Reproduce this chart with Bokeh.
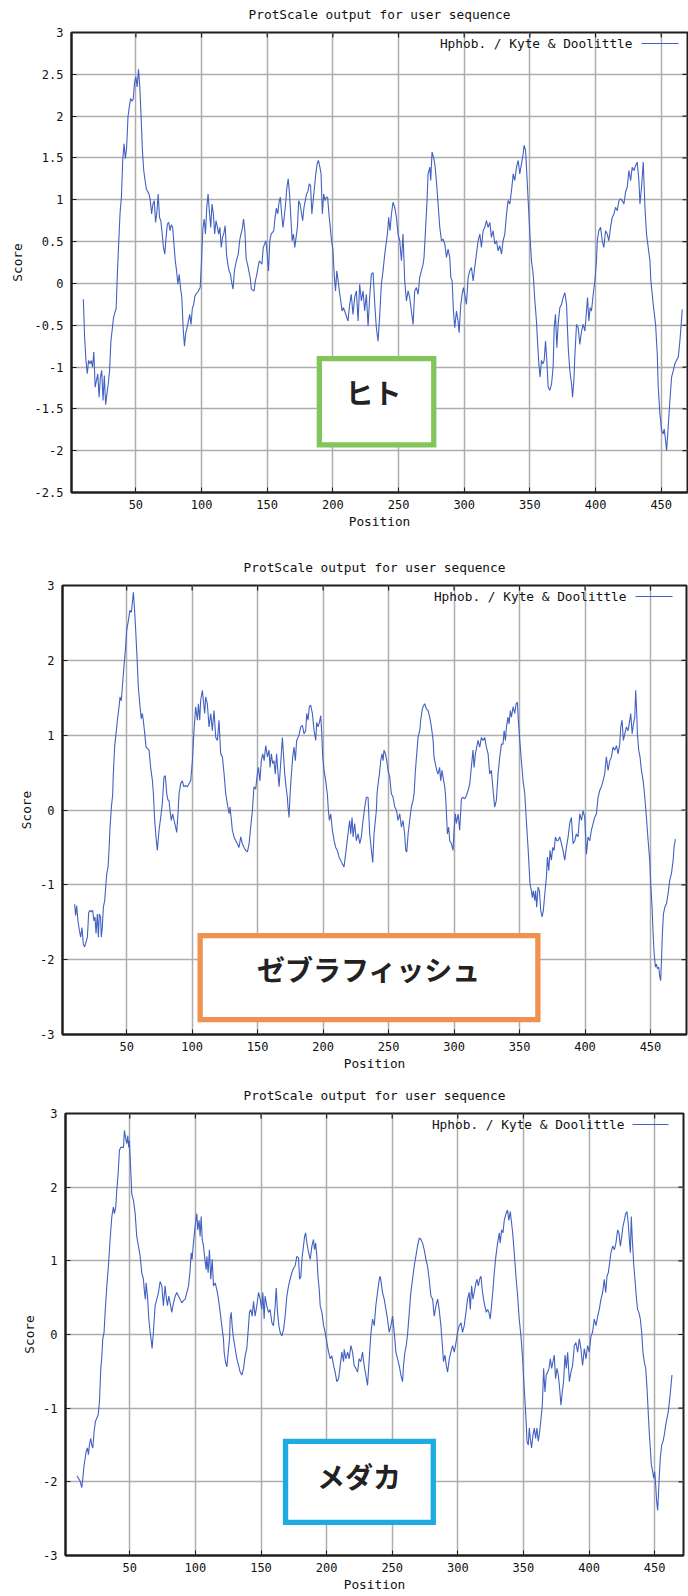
from bokeh.plotting import figure
from bokeh.models import Range1d, FixedTicker, Label, BoxAnnotation, LinearAxis
from bokeh.embed import file_html
from bokeh.resources import INLINE

# ---------------- texts ----------------
TITLE = "ProtScale output for user sequence"
LEGEND = "Hphob. / Kyte & Doolittle"
X_LABEL = "Position"
Y_LABEL = "Score"
SPECIES = ["ヒト", "ゼブラフィッシュ", "メダカ"]

X_TICKS = [50, 100, 150, 200, 250, 300, 350, 400, 450]
X_TICK_LABELS = ["50", "100", "150", "200", "250", "300", "350", "400", "450"]
Y1_TICKS = [-2.5, -2, -1.5, -1, -0.5, 0, 0.5, 1, 1.5, 2, 2.5, 3]
Y1_TICK_LABELS = ["-2.5", "-2", "-1.5", "-1", "-0.5", "0", "0.5", "1", "1.5", "2", "2.5", "3"]
Y23_TICKS = [-3, -2, -1, 0, 1, 2, 3]
Y23_TICK_LABELS = ["-3", "-2", "-1", "0", "1", "2", "3"]

# ---------------- data: human (ヒト) ----------------
human_pos = [10, 11, 12, 13, 14, 15, 16, 17, 18, 19, 20, 21, 22, 23, 24, 25, 26, 27, 28, 29,
             30, 31, 32, 33, 34, 35, 36, 37, 38, 39, 40, 41, 42, 43, 44, 45, 46, 47, 48, 49,
             50, 51, 52, 53, 54, 55, 56, 57, 58, 59, 60, 61, 62, 63, 64, 65, 66, 67, 68, 69,
             70, 71, 72, 73, 74, 75, 76, 77, 78, 79, 80, 81, 82, 83, 84, 85, 86, 87, 88, 89,
             90, 91, 92, 93, 94, 95, 96, 97, 98, 99, 100, 101, 102, 103, 104, 105, 106, 107, 108, 109,
             110, 111, 112, 113, 114, 115, 116, 117, 118, 119, 120, 121, 122, 123, 124, 125, 126, 127, 128, 129,
             130, 131, 132, 133, 134, 135, 136, 137, 138, 139, 140, 141, 142, 143, 144, 145, 146, 147, 148, 149,
             150, 151, 152, 153, 154, 155, 156, 157, 158, 159, 160, 161, 162, 163, 164, 165, 166, 167, 168, 169,
             170, 171, 172, 173, 174, 175, 176, 177, 178, 179, 180, 181, 182, 183, 184, 185, 186, 187, 188, 189,
             190, 191, 192, 193, 194, 195, 196, 197, 198, 199, 200, 201, 202, 203, 204, 205, 206, 207, 208,
             209.0, 211.5, 212.8, 214.0, 215.3, 216.6, 217.9, 219.2, 220.4, 221.7, 223.0, 224.2, 225.5, 226.8,
             228.0, 229.3, 230.6, 231.9, 233.1, 234.4, 235.7, 236.9, 238.2, 239.5, 241.5, 242.5, 243.5, 244.6,
             245.8, 247.1, 248.4, 249.6, 250.9, 252.2, 253.4, 254.7, 256.0, 257.3, 258.5, 259.8, 261.1, 262.3,
             263.6, 264.9, 266.1, 267.4, 268.7, 269.4, 270.5, 271.7, 272.5, 273.8, 274.5, 275.5, 276.6, 277.6,
             278.8, 280.1, 281.4, 282.7, 283.9, 285.2, 286.5, 287.7, 289.0, 289.8, 290.8, 291.8, 292.8, 294.1,
             295.3, 296.1, 297.4, 298.4, 299.4, 300.4, 301.7, 303.0, 304.2, 305.5, 306.8, 308.0, 309.3, 310.6,
             311.9, 313.1, 314.4, 315.7, 316.9, 318.2, 319.5, 320.7, 322.0, 323.3, 324.6, 325.8, 327.1, 328.4,
             329.6, 330.9, 332.2, 333.4, 334.7, 336.0, 337.3, 338.5, 339.8, 341.1, 342.3, 343.6, 344.9, 345.6,
             346.7, 347.4, 348.7, 350.0, 351.2, 352.5, 353.8, 355.0, 355.8, 356.8, 357.8, 358.8, 359.9, 360.9,
             361.9, 362.9, 363.9, 365.2, 366.5, 367.7, 368.5, 369.5, 370.5, 371.5, 372.8, 374.1, 375.3, 376.6,
             377.9, 379.2, 380.4, 381.7, 382.5, 383.5, 384.2, 385.5, 386.8, 388.0, 389.3, 390.6, 391.9, 393.1,
             393.9, 394.9, 395.9, 396.9, 398.2, 399.5, 400.7, 401.3, 402.5, 403.8, 405.1, 406.3, 407.6, 408.9,
             410.1, 411.4, 412.7, 414.0, 415.2, 416.5, 417.8, 419.0, 420.3, 421.6, 422.8, 424.1, 425.4, 426.7,
             427.9, 429.2, 430.5, 431.7, 433.0, 433.8, 435.0, 436.3, 437.6, 438.8, 440.1, 441.4, 442.1, 443.9,
             445.7, 447.0, 447.7, 449.0, 450.3, 451.5, 452.3, 453.3, 454.1, 455.3, 456.6, 457.9, 459.2, 460.4,
             461.7, 463.0, 464.2, 465.0, 466.0]
human_score = [-0.19, -0.65, -0.92, -1.08, -0.92, -0.96, -0.92, -1.00, -0.82, -1.24, -1.16, -1.08, -1.36, -1.12, -1.04, -1.40, -1.10, -1.45, -1.32, -1.20,
               -1.04, -0.69, -0.55, -0.41, -0.35, -0.30, 0.15, 0.50, 0.85, 1.03, 1.47, 1.67, 1.49, 1.63, 1.99, 2.11, 2.21, 2.18, 2.20, 2.40,
               2.47, 2.35, 2.56, 2.35, 1.99, 1.59, 1.35, 1.23, 1.13, 1.10, 1.07, 0.99, 0.83, 0.95, 0.99, 0.73, 0.85, 1.07, 0.79, 0.75,
               0.60, 0.43, 0.35, 0.55, 0.71, 0.73, 0.63, 0.70, 0.67, 0.47, 0.27, 0.15, -0.01, 0.11, -0.05, -0.17, -0.53, -0.75, -0.59, -0.53,
               -0.45, -0.37, -0.49, -0.30, -0.25, -0.15, -0.12, -0.11, -0.08, -0.05, 0.27, 0.65, 0.77, 0.59, 0.91, 1.07, 0.85, 0.67, 0.95, 0.83,
               0.59, 0.75, 0.68, 0.59, 0.67, 0.43, 0.55, 0.60, 0.69, 0.35, 0.23, 0.15, 0.11, 0.01, -0.07, 0.15, 0.23, 0.30, 0.35, 0.51,
               0.59, 0.65, 0.77, 0.63, 0.29, 0.23, 0.15, 0.07, -0.07, -0.08, -0.09, 0.03, 0.10, 0.19, 0.27, 0.25, 0.23, 0.43, 0.47, 0.51,
               0.35, 0.15, 0.51, 0.59, 0.61, 0.63, 0.79, 0.90, 0.83, 0.97, 1.03, 0.83, 0.67, 0.80, 0.95, 1.15, 1.25, 1.07, 0.79, 0.51,
               0.59, 0.43, 0.55, 0.67, 0.99, 0.95, 0.85, 0.75, 0.91, 0.99, 1.07, 1.10, 1.19, 1.17, 0.83, 0.99, 1.15, 1.31, 1.43, 1.47,
               1.40, 1.31, 0.83, 1.07, 0.99, 1.03, 1.03, 0.83, 0.67, 0.51, 0.41, 0.11, -0.09, 0.15, 0.03, -0.10, -0.21, -0.33, -0.29,
               -0.33, -0.45, -0.25, -0.13, -0.37, -0.17, -0.09, -0.45, -0.01, -0.21, -0.09, -0.33, -0.13, -0.51,
               -0.17, 0.11, 0.13, -0.25, -0.53, -0.69, -0.37, -0.01, 0.15, 0.35, 0.59, 0.79, 0.63, 0.83,
               0.97, 0.91, 0.79, 0.59, 0.51, 0.27, 0.59, 0.03, -0.21, -0.09, -0.17, -0.33, -0.49, -0.09,
               -0.05, -0.13, 0.07, 0.15, 0.23, 0.31, 0.63, 0.99, 1.31, 1.39, 1.23, 1.57, 1.51, 1.43,
               1.23, 0.95, 0.67, 0.51, 0.53, 0.47, 0.31, 0.41, 0.31, 0.07, 0.03, -0.33, -0.53, -0.33,
               -0.45, -0.59, -0.25, -0.13, -0.05, -0.13, -0.25, 0.07, 0.15, 0.19, 0.03, 0.19, 0.35, 0.51,
               0.59, 0.43, 0.63, 0.67, 0.75, 0.67, 0.73, 0.55, 0.63, 0.47, 0.51, 0.39, 0.45, 0.35,
               0.51, 0.59, 0.83, 0.99, 0.95, 1.11, 1.31, 1.23, 1.39, 1.47, 1.31, 1.43, 1.55, 1.65,
               1.59, 1.39, 0.99, 0.59, 0.27, 0.11, -0.21, -0.45, -0.69, -0.96, -1.12, -0.92, -0.96, -0.92,
               -0.69, -0.92, -1.24, -1.28, -1.20, -1.00, -0.53, -0.37, -0.77, -0.49, -0.29, -0.25, -0.17, -0.11,
               -0.25, -0.77, -1.04, -1.20, -1.36, -1.16, -0.88, -0.49, -0.53, -0.73, -0.57, -0.49, -0.57, -0.33,
               -0.17, -0.45, -0.29, -0.33, -0.13, 0.03, 0.27, 0.51, 0.63, 0.67, 0.51, 0.43, 0.63, 0.59,
               0.51, 0.67, 0.79, 0.83, 0.91, 0.87, 0.99, 1.01, 0.99, 0.95, 1.09, 1.15, 1.35, 1.23,
               1.39, 1.35, 1.41, 1.45, 1.23, 0.95, 1.15, 1.45, 0.91, 0.59, 0.43, 0.27, 0.03, -0.25,
               -0.49, -0.85, -1.24, -1.56, -1.76, -1.80, -1.74, -1.88, -2.00, -1.72, -1.40, -1.12, -1.04, -0.96,
               -0.92, -0.88, -0.69, -0.53, -0.31]

# ---------------- data: zebrafish (ゼブラフィッシュ) ----------------
zebrafish_pos = [10.3, 11.0, 11.8, 12.8, 13.9, 14.9, 15.9, 16.9, 17.9, 18.9, 20.0, 21.0, 22.0, 23.0, 24.0, 25.0, 25.8, 26.6, 27.6, 28.4,
                 29.1, 30.1, 30.6, 31.4, 32.2, 33.2, 34.0, 34.8, 35.8, 36.5, 37.3, 38.4, 39.3, 39.8, 40.8, 41.9, 42.9, 44.2, 44.9, 45.9,
                 46.7, 47.9, 49.2, 50.0, 51.3, 52.5, 53.6, 54.3, 55.1, 55.9, 56.9, 57.9, 58.9, 60.2, 61.2, 61.9, 62.7, 63.8, 64.8, 65.8,
                 67.1, 68.3, 69.6, 70.4, 71.4, 72.4, 73.4, 74.7, 76.0, 77.2, 78.5, 79.5, 80.6, 81.6, 82.3, 83.1, 84.1, 85.1, 86.2, 87.4,
                 88.2, 89.2, 90.0, 91.2, 92.5, 93.7, 95.0, 96.3, 97.6, 98.9, 100.2, 101.4, 102.7, 104.0, 104.8, 105.8, 106.5, 107.8, 108.6, 109.6,
                 110.3, 111.6, 112.9, 114.2, 115.4, 116.7, 118.0, 119.3, 120.5, 121.8, 123.1, 124.4, 125.6, 126.9, 128.2, 128.9, 130.0, 130.7, 132.0, 133.3,
                 134.5, 135.8, 137.1, 138.3, 139.6, 140.9, 142.2, 143.5, 144.7, 146.0, 147.2, 148.5, 149.8, 150.6, 151.8, 152.8, 153.9, 155.0, 156.2, 157.5,
                 158.7, 159.5, 160.5, 161.5, 162.5, 163.5, 164.5, 165.6, 166.4, 167.6, 168.9, 169.7, 170.7, 171.7, 172.7, 173.2, 174.0, 174.8, 175.8, 176.8,
                 177.8, 178.8, 179.8, 180.9, 181.9, 182.9, 184.2, 185.4, 186.7, 187.5, 188.5, 189.5, 190.5, 191.8, 193.1, 194.4, 195.1, 196.1, 197.2, 198.2,
                 199.0, 199.7, 200.7, 202.0, 203.3, 204.0, 204.8, 205.8, 207.1, 208.4, 209.6, 210.9, 212.2, 213.4, 214.7, 216.0, 217.8, 219.0, 220.3, 221.1,
                 222.1, 222.9, 224.1, 225.4, 226.7, 228.0, 229.2, 230.5, 231.8, 233.0, 234.3, 235.6, 236.9, 237.9, 238.9, 239.9, 240.7, 241.2, 242.0, 243.0,
                 244.0, 245.0, 245.8, 246.5, 247.6, 248.6, 249.6, 250.9, 252.1, 253.4, 254.7, 256.0, 257.2, 258.5, 259.8, 261.0, 262.3, 263.1, 263.9, 264.9,
                 266.1, 267.4, 268.7, 269.5, 270.5, 271.5, 272.5, 273.8, 274.5, 275.6, 276.3, 277.6, 278.9, 280.1, 281.4, 282.7, 284.0, 284.7, 285.7, 286.8,
                 287.8, 289.0, 289.8, 290.8, 291.6, 292.9, 293.6, 294.1, 294.9, 295.9, 296.7, 298.0, 299.2, 300.0, 301.0, 301.8, 303.1, 304.3, 305.6, 306.9,
                 308.1, 309.4, 310.7, 312.0, 312.7, 313.7, 314.5, 315.3, 316.3, 317.3, 318.3, 319.6, 320.9, 322.1, 323.4, 324.7, 326.0, 327.2, 328.5, 329.8,
                 331.0, 332.3, 333.6, 334.9, 336.2, 337.4, 338.2, 339.2, 340.0, 341.2, 342.0, 343.0, 343.8, 345.1, 346.3, 347.4, 348.4, 349.1, 350.2, 351.4,
                 352.7, 354.0, 355.2, 356.5, 357.3, 358.0, 359.1, 359.8, 360.6, 361.6, 362.3, 363.1, 364.2, 365.2, 366.2, 367.2, 368.2, 369.3, 370.5, 371.3,
                 372.3, 373.3, 374.3, 375.4, 376.4, 377.4, 378.4, 379.4, 380.7, 382.0, 383.2, 384.5, 385.8, 387.1, 388.3, 389.6, 390.9, 392.2, 393.4, 394.7,
                 396.0, 397.3, 398.5, 399.8, 401.1, 402.3, 403.6, 404.9, 406.2, 407.4, 408.7, 410.0, 411.2, 412.5, 413.8, 415.0, 416.3, 417.6, 418.9, 420.2,
                 421.4, 422.7, 424.0, 425.3, 426.5, 427.3, 428.3, 429.3, 430.4, 431.6, 432.9, 434.2, 434.9, 436.0, 437.0, 438.0, 438.7, 439.5, 440.0, 441.0,
                 442.0, 443.1, 444.4, 445.6, 446.9, 448.2, 449.4, 450.2, 451.2, 452.0, 452.8, 453.8, 454.5, 455.3, 456.3, 457.1, 457.8, 458.4, 459.1, 459.9,
                 460.9, 462.2, 463.4, 464.7, 466.0, 467.3, 468.0, 469.0]
zebrafish_score = [-1.26, -1.41, -1.28, -1.48, -1.61, -1.70, -1.57, -1.79, -1.83, -1.77, -1.70, -1.37, -1.34, -1.36, -1.34, -1.48, -1.43, -1.65, -1.39, -1.70,
                   -1.39, -1.43, -1.70, -1.57, -1.30, -1.21, -1.03, -0.85, -0.76, -0.54, -0.23, 0.05, 0.20, 0.48, 0.84, 1.02, 1.20, 1.38, 1.51, 1.46,
                   1.64, 1.91, 2.18, 2.40, 2.53, 2.67, 2.64, 2.76, 2.91, 2.71, 2.40, 2.04, 1.64, 1.38, 1.22, 1.29, 1.20, 1.02, 0.84, 0.82,
                   0.80, 0.57, 0.40, 0.22, -0.14, -0.36, -0.54, -0.27, -0.10, 0.08, 0.44, 0.46, 0.22, 0.13, 0.13, -0.01, -0.14, -0.05, -0.14, -0.23,
                   -0.30, -0.05, 0.22, 0.35, 0.39, 0.31, 0.33, 0.31, 0.35, 0.39, 0.66, 1.06, 1.38, 1.20, 1.42, 1.20, 1.46, 1.60, 1.46, 1.29,
                   1.51, 1.42, 1.11, 1.29, 1.06, 1.33, 0.97, 0.93, 1.20, 0.75, 0.71, 0.48, 0.22, 0.08, -0.05, 0.04, -0.14, -0.27, -0.36, -0.41,
                   -0.45, -0.50, -0.36, -0.45, -0.50, -0.54, -0.56, -0.45, -0.23, -0.01, 0.31, 0.28, 0.48, 0.57, 0.39, 0.66, 0.75, 0.66, 0.86, 0.71,
                   0.80, 0.57, 0.75, 0.62, 0.66, 0.48, 0.75, 0.48, 0.31, 0.62, 0.97, 0.75, 0.48, 0.31, 0.17, 0.04, -0.10, 0.22, 0.48, 0.71,
                   0.84, 0.66, 0.93, 0.97, 1.02, 1.11, 1.13, 1.02, 1.06, 1.29, 1.20, 1.38, 1.40, 1.29, 1.06, 0.93, 1.17, 1.11, 1.17, 1.26,
                   1.02, 0.71, 0.53, 0.39, 0.20, 0.00, -0.14, -0.05, -0.27, -0.41, -0.50, -0.54, -0.63, -0.67, -0.72, -0.76, -0.50, -0.32, -0.14, -0.32,
                   -0.10, -0.36, -0.18, -0.41, -0.32, -0.45, -0.36, -0.14, 0.04, 0.17, 0.17, -0.32, -0.54, -0.70, -0.32, -0.14, 0.00, 0.22, 0.35, 0.48,
                   0.66, 0.75, 0.66, 0.80, 0.75, 0.66, 0.53, 0.44, 0.22, 0.17, 0.04, 0.00, -0.14, -0.05, -0.23, -0.14, -0.32, -0.54, -0.56, -0.32,
                   -0.14, 0.04, 0.13, 0.22, 0.53, 0.75, 0.97, 1.06, 1.20, 1.33, 1.38, 1.42, 1.35, 1.33, 1.24, 1.11, 0.93, 0.71, 0.62, 0.53,
                   0.48, 0.57, 0.39, 0.53, 0.44, 0.31, 0.17, -0.01, -0.32, -0.23, -0.41, -0.45, -0.54, -0.27, -0.05, -0.18, -0.05, -0.27, 0.15, 0.17,
                   0.15, 0.19, 0.26, 0.35, 0.48, 0.66, 0.80, 0.57, 0.75, 0.84, 0.93, 0.84, 0.97, 0.93, 0.97, 0.84, 0.75, 0.48, 0.53, 0.26,
                   0.04, 0.13, 0.48, 0.71, 0.88, 0.88, 1.06, 0.93, 1.11, 1.24, 1.15, 1.33, 1.24, 1.38, 1.29, 1.42, 1.44, 1.20, 0.93, 0.66,
                   0.39, 0.22, -0.14, -0.50, -0.76, -0.99, -1.08, -1.17, -1.08, -1.21, -1.08, -1.30, -1.03, -1.08, -1.34, -1.43, -1.34, -1.12, -0.90, -0.63,
                   -0.81, -0.54, -0.67, -0.50, -0.54, -0.36, -0.41, -0.41, -0.36, -0.45, -0.54, -0.67, -0.50, -0.36, -0.18, -0.10, -0.45, -0.41, -0.32, -0.36,
                   -0.05, -0.14, -0.01, -0.10, -0.59, -0.36, -0.41, -0.27, -0.18, -0.10, -0.05, 0.17, 0.26, 0.31, 0.39, 0.48, 0.71, 0.53, 0.66, 0.71,
                   0.84, 0.80, 0.86, 0.75, 0.88, 1.11, 1.20, 0.93, 1.02, 1.11, 1.06, 1.20, 1.29, 1.02, 1.15, 1.24, 1.60, 1.29, 1.02, 0.80,
                   0.71, 0.53, 0.39, 0.18, -0.10, -0.41, -0.67, -0.99, -1.30, -1.65, -1.92, -2.10, -2.06, -2.12, -2.10, -2.23, -2.28, -2.01, -1.65, -1.39,
                   -1.30, -1.25, -1.12, -0.94, -0.85, -0.67, -0.50, -0.39]

# ---------------- data: medaka (メダカ) ----------------
medaka_pos = [9.6, 10.9, 12.1, 13.4, 14.2, 15.2, 16.0, 16.7, 17.7, 18.5, 19.2, 20.2, 21.0, 21.8, 22.8, 23.8, 24.8, 25.9, 26.9, 27.9,
              28.6, 29.4, 30.4, 31.2, 32.5, 33.7, 35.0, 36.3, 37.5, 38.3, 39.3, 40.1, 41.1, 42.1, 43.1, 44.2, 45.2, 45.9, 46.7, 47.7,
              48.5, 49.2, 49.7, 50.5, 51.5, 52.8, 54.1, 55.3, 56.6, 57.9, 59.1, 60.4, 61.2, 61.9, 62.4, 63.5, 64.5, 65.5, 66.2, 67.0,
              68.0, 69.3, 70.6, 71.9, 73.1, 74.4, 75.6, 76.9, 77.7, 78.7, 79.7, 80.7, 82.0, 83.3, 84.6, 85.8, 87.1, 88.3, 89.6, 90.9,
              92.2, 93.5, 94.8, 96.0, 96.8, 97.5, 98.5, 99.8, 101.1, 101.8, 102.8, 103.6, 104.4, 105.2, 106.2, 107.2, 108.2, 108.7, 109.7, 110.7,
              111.7, 112.8, 113.8, 115.1, 116.3, 117.6, 118.9, 120.1, 121.4, 121.9, 122.9, 124.0, 125.0, 126.0, 126.5, 127.3, 128.0, 128.8, 130.3, 131.6,
              132.9, 134.1, 135.4, 136.7, 138.0, 139.2, 140.5, 141.2, 142.2, 143.3, 144.3, 145.5, 146.8, 148.1, 149.4, 150.6, 151.4, 152.4, 153.1, 154.4,
              155.7, 156.9, 158.3, 159.5, 160.8, 161.6, 162.6, 163.6, 164.6, 165.9, 167.2, 168.4, 169.7, 171.0, 172.2, 173.5, 174.8, 176.0, 177.3, 178.6,
              179.4, 180.4, 181.4, 182.4, 183.2, 184.0, 185.0, 186.3, 187.5, 188.8, 190.0, 190.8, 191.6, 192.6, 193.4, 194.4, 195.1, 196.4, 197.7, 198.9,
              200.2, 201.5, 202.8, 204.0, 205.3, 206.5, 207.8, 209.1, 210.4, 211.6, 212.9, 213.4, 214.7, 216.0, 217.2, 218.5, 219.8, 221.0, 222.3, 223.6,
              224.8, 226.1, 227.4, 228.6, 229.9, 231.2, 232.5, 233.7, 235.0, 236.3, 237.5, 238.8, 240.1, 240.9, 241.9, 242.6, 243.9, 245.2, 246.4, 247.7,
              249.0, 250.3, 251.0, 252.0, 252.8, 254.1, 255.3, 256.6, 257.9, 258.6, 259.7, 260.7, 261.7, 263.0, 264.2, 265.5, 266.8, 268.0, 269.3, 270.6,
              271.9, 273.1, 274.4, 275.7, 276.9, 278.2, 279.5, 280.8, 282.0, 283.3, 284.6, 285.8, 287.1, 288.4, 289.1, 290.2, 291.2, 292.2, 293.5, 294.7,
              296.0, 297.3, 298.6, 299.8, 301.1, 302.4, 303.6, 304.9, 306.2, 307.4, 308.7, 309.5, 310.5, 311.5, 312.5, 313.8, 314.6, 315.6, 316.6, 317.6,
              318.6, 319.6, 320.6, 321.7, 322.7, 323.7, 324.7, 325.7, 326.8, 327.8, 329.0, 330.3, 331.6, 332.3, 333.4, 334.4, 335.4, 336.7, 337.9, 338.9,
              340.0, 341.0, 341.8, 343.0, 344.3, 345.6, 346.8, 348.1, 349.4, 350.6, 351.4, 352.2, 352.7, 353.7, 354.5, 355.2, 356.2, 357.3, 358.3, 359.3,
              360.3, 361.3, 362.4, 363.4, 364.4, 365.4, 366.4, 367.4, 368.5, 369.5, 370.5, 371.5, 372.5, 373.5, 374.5, 375.6, 376.6, 377.6, 378.6, 379.6,
              380.6, 381.7, 382.7, 383.7, 385.0, 386.2, 387.5, 388.8, 390.0, 391.3, 392.6, 393.8, 395.1, 396.4, 397.7, 398.9, 400.2, 401.5, 402.7, 404.0,
              405.3, 406.6, 407.8, 409.1, 410.4, 411.6, 412.7, 413.7, 414.7, 415.7, 416.7, 418.0, 419.3, 420.5, 421.8, 422.8, 423.9, 424.9, 425.9, 426.9,
              427.9, 428.9, 429.9, 430.7, 431.5, 432.2, 433.0, 434.0, 435.0, 436.0, 437.0, 438.0, 439.1, 440.1, 441.1, 442.1, 443.2, 444.2, 445.2, 446.0,
              446.7, 447.5, 448.5, 449.3, 450.0, 450.8, 451.5, 452.3, 452.8, 453.6, 454.3, 455.4, 456.4, 457.4, 458.4, 459.4, 460.4, 461.5, 462.5, 463.2]
medaka_score = [-1.92, -1.95, -1.99, -2.08, -1.95, -1.77, -1.68, -1.59, -1.54, -1.63, -1.50, -1.41, -1.50, -1.54, -1.32, -1.18, -1.14, -1.09, -0.91, -0.46,
                -0.33, -0.06, 0.03, 0.30, 0.66, 0.93, 1.29, 1.60, 1.73, 1.64, 1.73, 1.96, 2.18, 2.50, 2.54, 2.54, 2.54, 2.77, 2.68, 2.59,
                2.70, 2.54, 2.63, 2.32, 1.91, 1.82, 1.64, 1.33, 1.20, 1.06, 0.84, 0.75, 0.57, 0.48, 0.70, 0.52, 0.21, 0.03, -0.06, -0.19,
                0.03, 0.39, 0.48, 0.57, 0.72, 0.66, 0.39, 0.66, 0.52, 0.39, 0.52, 0.43, 0.30, 0.43, 0.52, 0.57, 0.52, 0.48, 0.43, 0.46,
                0.48, 0.57, 0.66, 0.88, 1.11, 1.02, 1.24, 1.47, 1.64, 1.42, 1.55, 1.33, 1.60, 1.29, 1.20, 1.02, 0.88, 1.06, 0.84, 1.15,
                0.75, 1.02, 0.66, 0.70, 0.61, 0.48, 0.30, 0.12, -0.06, -0.24, -0.37, -0.44, -0.24, -0.06, 0.21, 0.30, 0.12, -0.02, -0.19, -0.33,
                -0.42, -0.51, -0.55, -0.46, -0.28, -0.19, 0.12, 0.30, 0.34, 0.25, 0.45, 0.25, 0.39, 0.57, 0.48, 0.34, 0.57, 0.21, 0.52, 0.39,
                0.30, 0.34, 0.16, 0.12, 0.39, 0.63, 0.30, 0.12, 0.03, -0.02, 0.07, 0.25, 0.52, 0.66, 0.75, 0.84, 0.90, 0.93, 1.06, 1.04,
                0.75, 0.79, 1.06, 1.20, 1.33, 1.38, 1.24, 1.11, 1.02, 1.20, 1.29, 1.15, 1.24, 1.06, 0.79, 0.61, 0.39, 0.30, 0.12, 0.03,
                -0.11, -0.24, -0.33, -0.29, -0.42, -0.51, -0.64, -0.60, -0.42, -0.24, -0.37, -0.20, -0.33, -0.24, -0.33, -0.15, -0.24, -0.42, -0.46, -0.51,
                -0.33, -0.37, -0.24, -0.42, -0.55, -0.69, -0.33, 0.00, 0.21, 0.12, 0.39, 0.57, 0.75, 0.79, 0.66, 0.57, 0.48, 0.34, 0.21, 0.03,
                0.12, 0.25, 0.12, -0.06, -0.24, -0.33, -0.42, -0.55, -0.64, -0.42, -0.24, -0.15, 0.00, 0.30, 0.57, 0.75, 0.93, 1.06, 1.20, 1.31,
                1.29, 1.24, 1.15, 1.02, 0.93, 0.75, 0.52, 0.48, 0.25, 0.39, 0.48, 0.34, 0.12, -0.19, -0.37, -0.28, -0.42, -0.51, -0.33, -0.24,
                -0.15, -0.24, -0.11, 0.03, 0.12, 0.16, 0.03, 0.12, 0.30, 0.48, 0.57, 0.34, 0.66, 0.48, 0.57, 0.70, 0.75, 0.66, 0.75, 0.79,
                0.61, 0.48, 0.39, 0.30, 0.34, 0.30, 0.21, 0.39, 0.61, 0.84, 1.06, 1.24, 1.38, 1.24, 1.42, 1.38, 1.55, 1.64, 1.69, 1.55,
                1.67, 1.51, 1.38, 1.11, 0.79, 0.52, 0.21, -0.02, -0.33, -0.73, -0.96, -1.23, -1.45, -1.50, -1.27, -1.41, -1.54, -1.36, -1.27, -1.41,
                -1.27, -1.45, -1.32, -1.14, -0.96, -0.46, -0.78, -0.55, -0.51, -0.46, -0.33, -0.46, -0.37, -0.28, -0.60, -0.46, -0.55, -0.73, -0.96, -0.78,
                -0.64, -0.28, -0.46, -0.24, -0.64, -0.51, -0.42, -0.15, -0.11, -0.24, -0.06, -0.19, -0.42, -0.19, -0.33, -0.15, -0.24, -0.02, 0.03, 0.21,
                0.12, 0.25, 0.34, 0.48, 0.57, 0.75, 0.57, 0.79, 0.84, 0.97, 1.11, 1.20, 1.15, 1.24, 1.42, 1.38, 1.20, 1.33, 1.47, 1.55,
                1.64, 1.67, 1.51, 1.29, 1.11, 1.60, 1.29, 0.97, 0.75, 0.52, 0.34, 0.30, 0.21, 0.03, -0.24, -0.37, -0.46, -0.73, -1.09, -1.36,
                -1.54, -1.77, -1.86, -1.95, -1.86, -2.04, -2.26, -2.39, -2.22, -1.90, -1.68, -1.50, -1.45, -1.36, -1.23, -1.14, -1.05, -0.87, -0.69, -0.55]

# ---------------- styling constants ----------------
MONO = "DejaVu Sans Mono"
CJK = "Noto Sans CJK JP"
CURVE_COLOR = "#4261c2"
GRID_COLOR = "#adadad"
FRAME_COLOR = "#1e1e1e"
TEXT_COLOR = "#111111"
TICK_PX = 5

PANELS = [
    dict(pos=human_pos, score=human_score, xr=(1, 470), yr=(-2.5, 3),
         yt=Y1_TICKS, ytl=Y1_TICK_LABELS, fw=616, fh=460,
         bl=71, br=1, bt=32, bb=58, score_standoff=7,
         box=(189.7, 276.8, -0.90, -1.93), box_color="#84c45c",
         lab=(231, -1.30), species=SPECIES[0], leg=(55, 46, 9, 11)),
    dict(pos=zebrafish_pos, score=zebrafish_score, xr=(1, 477.5), yr=(-3, 3),
         yt=Y23_TICKS, ytl=Y23_TICK_LABELS, fw=624, fh=449,
         bl=62, br=2, bt=35, bb=44, score_standoff=3,
         box=(106.1, 364.0, -1.68, -2.80), box_color="#f0914f",
         lab=(235, -2.13), species=SPECIES[1], leg=(60, 51, 14, 11)),
    dict(pos=medaka_pos, score=medaka_score, xr=(1, 472), yr=(-3, 3),
         yt=Y23_TICKS, ytl=Y23_TICK_LABELS, fw=618, fh=442,
         bl=65, br=5, bt=35, bb=39, score_standoff=3,
         box=(168.7, 281.3, -1.45, -2.55), box_color="#1eaae2",
         lab=(224.6, -1.92), species=SPECIES[2], leg=(59, 51, 15, 11)),
]


def make_panel(cfg):
    x0, x1 = cfg["xr"]
    y0, y1 = cfg["yr"]
    fw, fh = cfg["fw"], cfg["fh"]
    upx = (x1 - x0) / fw   # data units per pixel (x)
    upy = (y1 - y0) / fh   # data units per pixel (y)

    p = figure(title=None, frame_width=fw, frame_height=fh,
               x_range=Range1d(x0, x1), y_range=Range1d(y0, y1),
               output_backend="svg", toolbar_location=None,
               min_border_left=cfg["bl"], min_border_right=cfg["br"],
               min_border_top=cfg["bt"], min_border_bottom=cfg["bb"],
               background_fill_color="white", border_fill_color="white")

    p.outline_line_color = FRAME_COLOR
    p.outline_line_width = 2
    p.outline_line_alpha = 1

    xt = FixedTicker(ticks=X_TICKS)
    ytk = FixedTicker(ticks=cfg["yt"])
    p.xaxis.ticker = xt
    p.yaxis.ticker = ytk
    p.xgrid.ticker = xt
    p.ygrid.ticker = ytk
    p.xaxis.major_label_overrides = dict(zip(X_TICKS, X_TICK_LABELS))
    p.yaxis.major_label_overrides = dict(zip(cfg["yt"], cfg["ytl"]))

    for ax in (p.xaxis, p.yaxis):
        ax.major_tick_in = TICK_PX
        ax.major_tick_out = 0
        ax.minor_tick_in = 0
        ax.minor_tick_out = 0
        ax.major_tick_line_color = FRAME_COLOR
        ax.axis_line_color = FRAME_COLOR
        ax.axis_line_width = 2
        ax.major_label_text_font = MONO
        ax.major_label_text_font_size = "12px"
        ax.major_label_text_color = TEXT_COLOR
        ax.axis_label_text_font = MONO
        ax.axis_label_text_font_size = "12.8px"
        ax.axis_label_text_font_style = "normal"
        ax.axis_label_text_color = TEXT_COLOR

    p.xaxis.axis_label = X_LABEL
    p.yaxis.axis_label = Y_LABEL
    p.xaxis.major_label_standoff = 7
    p.xaxis.axis_label_standoff = 2
    p.yaxis.major_label_standoff = 8
    p.yaxis.axis_label_standoff = cfg["score_standoff"]

    p.grid.grid_line_color = GRID_COLOR
    p.grid.grid_line_width = 1.5

    # title: the label of a bare axis above the frame (centred on the frame)
    title_axis = LinearAxis(ticker=FixedTicker(ticks=[]), axis_label=TITLE,
                            axis_line_color=None, major_tick_line_color=None,
                            minor_tick_line_color=None,
                            axis_label_standoff=11,
                            axis_label_text_font=MONO, axis_label_text_font_size="12.8px",
                            axis_label_text_font_style="normal", axis_label_text_color=TEXT_COLOR)
    p.add_layout(title_axis, "above")

    # mirrored inward ticks on top and right edges
    nx, ny = len(X_TICKS), len(cfg["yt"])
    p.segment(x0=X_TICKS, y0=[y1] * nx, x1=X_TICKS, y1=[y1 - TICK_PX * upy] * nx,
              line_color=FRAME_COLOR, line_width=1.2)
    p.segment(x0=[x1] * ny, y0=cfg["yt"], x1=[x1 - TICK_PX * upx] * ny, y1=cfg["yt"],
              line_color=FRAME_COLOR, line_width=1.2)

    # hydrophobicity curve
    p.line(cfg["pos"], cfg["score"], line_color=CURVE_COLOR, line_width=1.1)

    # gnuplot-style key: text then line sample, at the top right
    t_off, l_start, l_end, k_dy = cfg["leg"]
    ky = y1 - k_dy * upy
    p.add_layout(Label(x=x1 - t_off * upx, y=ky, text=LEGEND,
                       text_align="right", text_baseline="middle",
                       text_font=MONO, text_font_size="12.8px", text_color=TEXT_COLOR))
    p.line([x1 - l_start * upx, x1 - l_end * upx], [ky, ky], line_color=CURVE_COLOR, line_width=1.1)

    # species call-out box
    bl_, br_, bt_, bb_ = cfg["box"]
    p.add_layout(BoxAnnotation(left=bl_, right=br_, top=bt_, bottom=bb_,
                               fill_color="white", fill_alpha=1.0,
                               line_color=cfg["box_color"], line_width=5.3, line_alpha=1.0,
                               line_join="miter"))
    lx, ly = cfg["lab"]
    p.add_layout(Label(x=lx, y=ly, text=cfg["species"], text_align="center",
                       text_baseline="middle", text_font=CJK, text_font_style="bold",
                       text_font_size="28px", text_color="#222222"))
    return p


figs = [make_panel(c) for c in PANELS]

# three independent roots so that each frame keeps its own position
open("out.html", "w").write(file_html(figs, INLINE, "ProtScale"))
